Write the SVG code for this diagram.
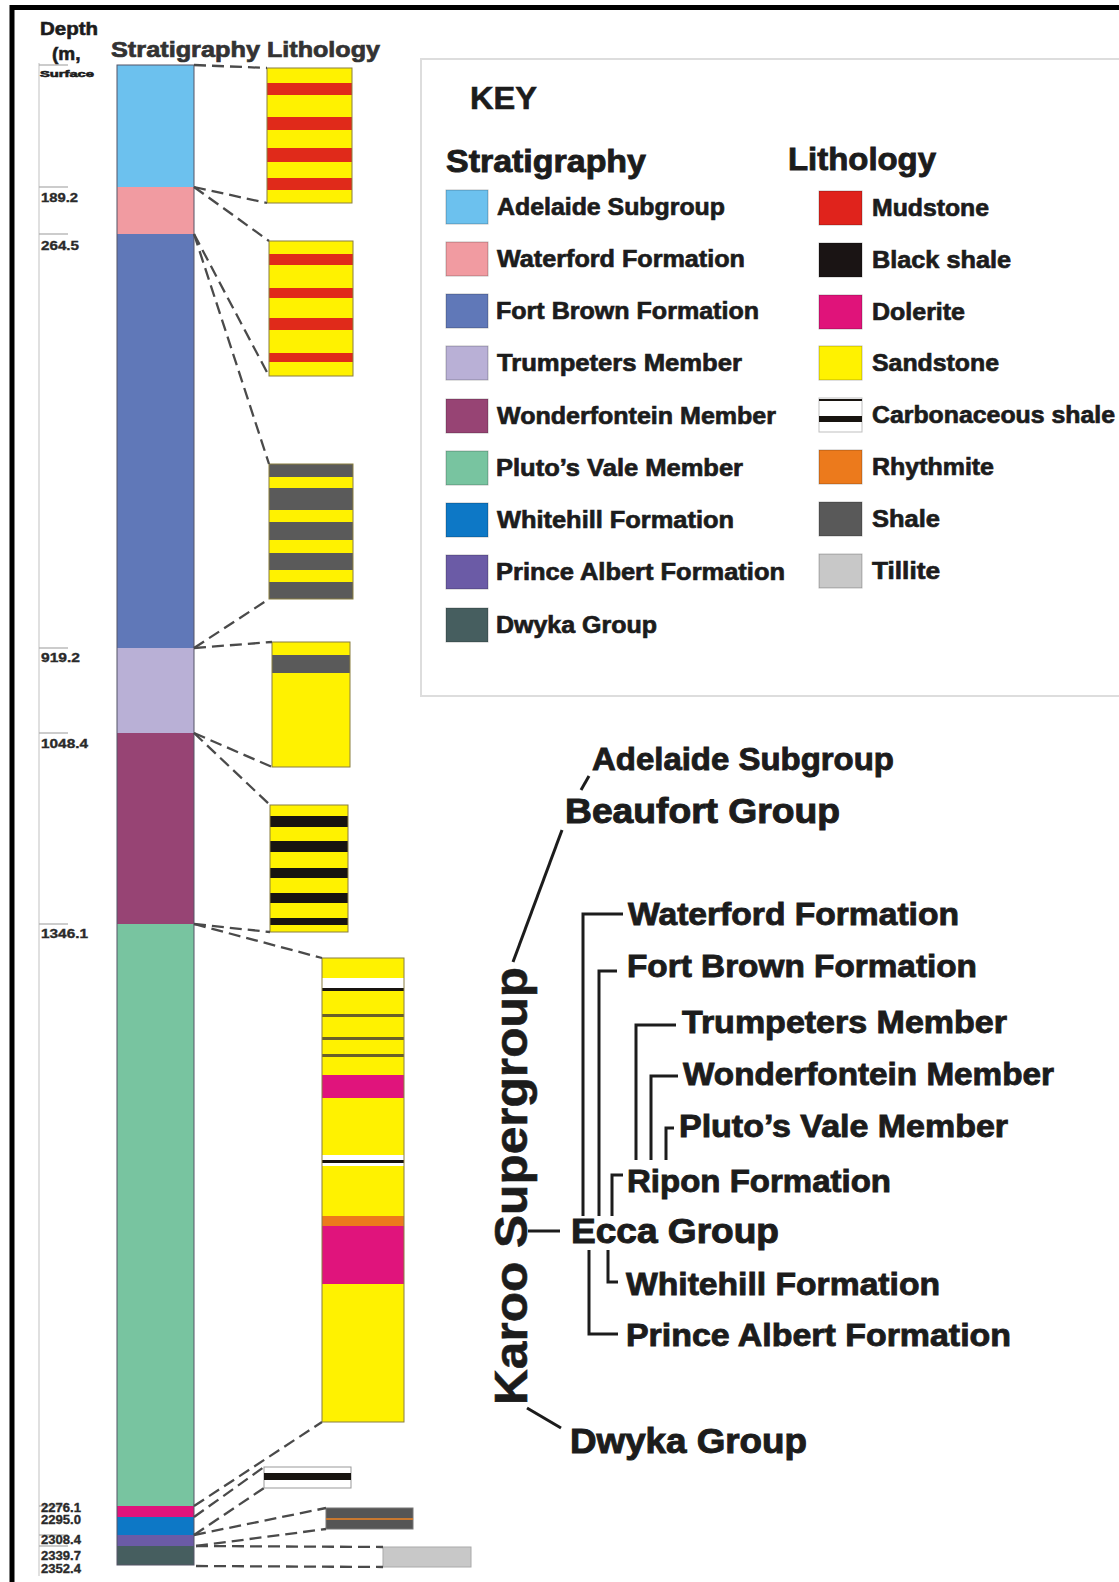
<svg xmlns="http://www.w3.org/2000/svg" width="1119" height="1582" viewBox="0 0 1119 1582">
<style>
text{font-family:"Liberation Sans",Arial,sans-serif;font-weight:bold;fill:#1c1c1c;stroke:#1c1c1c;stroke-width:0.6}
.dep{font-size:13px;fill:#2a2a2a;stroke:#2a2a2a;stroke-width:0.35}
.hdr{font-size:22px;fill:#333;stroke:#333;stroke-width:0.7}
.kt{font-size:32px;stroke-width:0.9}
.ki{font-size:24px;stroke-width:0.7}
.tr{font-size:31px;stroke-width:0.9}
.tb{font-size:35px;stroke-width:1}
.dash{stroke:#4a4a4a;stroke-width:2.3;stroke-dasharray:12 6;fill:none}
.tree{stroke:#1c1c1c;stroke-width:3;fill:none}
.tick{stroke:#aaa;stroke-width:1.2}
.lb{stroke:#8a7f40;stroke-width:1}
.sw{stroke:#000;stroke-opacity:0.25;stroke-width:1}
</style>
<rect width="1119" height="1582" fill="#fff"/>
<path d="M12,1582 V7.5 H1119" fill="none" stroke="#000" stroke-width="5"/>

<g id="depth-axis">
<line x1="39" y1="63" x2="39" y2="1576" stroke="#ccc" stroke-width="1.2"/>
<line class="tick" x1="39" y1="65" x2="68" y2="65"/>
<line class="tick" x1="39" y1="187" x2="68" y2="187"/>
<line class="tick" x1="39" y1="234" x2="68" y2="234"/>
<line class="tick" x1="39" y1="648" x2="68" y2="648"/>
<line class="tick" x1="39" y1="733" x2="68" y2="733"/>
<line class="tick" x1="39" y1="924" x2="68" y2="924"/>
<line class="tick" x1="39" y1="1506" x2="68" y2="1506"/>
<line class="tick" x1="39" y1="1535" x2="68" y2="1535"/>
<line class="tick" x1="39" y1="1546" x2="68" y2="1546"/>
<text x="40" y="35" font-size="19" textLength="58" lengthAdjust="spacingAndGlyphs" fill="#000" stroke="#000">Depth</text>
<text x="52" y="60" font-size="19" fill="#000" stroke="#000">(m,</text>
<text x="40" y="77" font-size="9.5" textLength="54" lengthAdjust="spacingAndGlyphs" fill="#444" stroke="#444" stroke-width="0.3">Surface</text>
<text class="dep" x="41" y="202" textLength="37" lengthAdjust="spacingAndGlyphs">189.2</text>
<text class="dep" x="41" y="250" textLength="38" lengthAdjust="spacingAndGlyphs">264.5</text>
<text class="dep" x="41" y="662" textLength="39" lengthAdjust="spacingAndGlyphs">919.2</text>
<text class="dep" x="41" y="748" textLength="47" lengthAdjust="spacingAndGlyphs">1048.4</text>
<text class="dep" x="41" y="938" textLength="47" lengthAdjust="spacingAndGlyphs">1346.1</text>
<text class="dep" x="41" y="1512" font-size="9" textLength="40" lengthAdjust="spacingAndGlyphs">2276.1</text>
<text class="dep" x="41" y="1524" font-size="9" textLength="40" lengthAdjust="spacingAndGlyphs">2295.0</text>
<text class="dep" x="41" y="1544" font-size="9" textLength="40" lengthAdjust="spacingAndGlyphs">2308.4</text>
<text class="dep" x="41" y="1560" font-size="9" textLength="40" lengthAdjust="spacingAndGlyphs">2339.7</text>
<text class="dep" x="41" y="1573" font-size="9" textLength="40" lengthAdjust="spacingAndGlyphs">2352.4</text>
</g>

<g id="headers">
<text class="hdr" x="111" y="57" textLength="149" lengthAdjust="spacingAndGlyphs">Stratigraphy</text>
<text class="hdr" x="267" y="57" textLength="113" lengthAdjust="spacingAndGlyphs">Lithology</text>
</g>

<g id="strat-column">
<rect x="117" y="65" width="77" height="122" fill="#6cc1ee"/>
<rect x="117" y="187" width="77" height="47" fill="#f19ba1"/>
<rect x="117" y="234" width="77" height="414" fill="#6078b8"/>
<rect x="117" y="648" width="77" height="85" fill="#b9b0d6"/>
<rect x="117" y="733" width="77" height="191" fill="#974474"/>
<rect x="117" y="924" width="77" height="582" fill="#78c4a0"/>
<rect x="117" y="1506" width="77" height="11" fill="#e0147c"/>
<rect x="117" y="1517" width="77" height="18" fill="#0d78c6"/>
<rect x="117" y="1535" width="77" height="11" fill="#6b5ba6"/>
<rect x="117" y="1546" width="77" height="19" fill="#465e5f"/>
<rect x="117" y="65" width="77" height="1500" fill="none" stroke="#556" stroke-width="1"/>
</g>

<g id="lith-adelaide">
<rect x="267" y="68" width="85" height="135" fill="#fff200"/>
<rect x="267" y="83" width="85" height="12" fill="#e02a1a"/>
<rect x="267" y="117" width="85" height="13" fill="#e02a1a"/>
<rect x="267" y="148" width="85" height="14" fill="#e02a1a"/>
<rect x="267" y="178" width="85" height="12" fill="#e02a1a"/>
<rect class="lb" x="267" y="68" width="85" height="135" fill="none"/>
</g>
<g id="lith-waterford">
<rect x="269" y="241" width="84" height="135" fill="#fff200"/>
<rect x="269" y="254" width="84" height="11" fill="#e02a1a"/>
<rect x="269" y="288" width="84" height="10" fill="#e02a1a"/>
<rect x="269" y="318" width="84" height="12" fill="#e02a1a"/>
<rect x="269" y="353" width="84" height="9" fill="#e02a1a"/>
<rect class="lb" x="269" y="241" width="84" height="135" fill="none"/>
</g>
<g id="lith-fortbrown">
<rect x="269" y="464" width="84" height="135" fill="#5a5a5a"/>
<rect x="269" y="477" width="84" height="11" fill="#fff200"/>
<rect x="269" y="510" width="84" height="12" fill="#fff200"/>
<rect x="269" y="540" width="84" height="13" fill="#fff200"/>
<rect x="269" y="570" width="84" height="12" fill="#fff200"/>
<rect class="lb" x="269" y="464" width="84" height="135" fill="none"/>
</g>
<g id="lith-trumpeters">
<rect x="272" y="642" width="78" height="125" fill="#fff200"/>
<rect x="272" y="655" width="78" height="18" fill="#5a5a5a"/>
<rect class="lb" x="272" y="642" width="78" height="125" fill="none"/>
</g>
<g id="lith-wonderfontein">
<rect x="270" y="805" width="78" height="127" fill="#fff200"/>
<rect x="270" y="816" width="78" height="11" fill="#181410"/>
<rect x="270" y="841" width="78" height="11" fill="#181410"/>
<rect x="270" y="868" width="78" height="10" fill="#181410"/>
<rect x="270" y="893" width="78" height="10" fill="#181410"/>
<rect x="270" y="918" width="78" height="7" fill="#181410"/>
<rect class="lb" x="270" y="805" width="78" height="127" fill="none"/>
</g>
<g id="lith-plutosvale">
<rect x="322" y="958" width="82" height="464" fill="#fff200"/>
<rect x="322" y="978" width="82" height="10" fill="#fff"/>
<rect x="322" y="988" width="82" height="3" fill="#181410"/>
<rect x="322" y="1014" width="82" height="3" fill="#6a6028"/>
<rect x="322" y="1037" width="82" height="3" fill="#6a6028"/>
<rect x="322" y="1054" width="82" height="3" fill="#6a6028"/>
<rect x="322" y="1075" width="82" height="23" fill="#e0147c"/>
<rect x="322" y="1155" width="82" height="11" fill="#fff"/>
<rect x="322" y="1160" width="82" height="3" fill="#181410"/>
<rect x="322" y="1216" width="82" height="10" fill="#ec7a1c"/>
<rect x="322" y="1226" width="82" height="58" fill="#e0147c"/>
<rect class="lb" x="322" y="958" width="82" height="464" fill="none"/>
</g>
<g id="lith-whitehill">
<rect x="264" y="1467" width="87" height="21" fill="#fff" stroke="#999" stroke-width="1"/>
<rect x="264" y="1473" width="87" height="7" fill="#181410"/>
</g>
<g id="lith-princealbert">
<rect x="326" y="1508" width="87" height="21" fill="#555" stroke="#777" stroke-width="1"/>
<line x1="326" y1="1519" x2="413" y2="1519" stroke="#c87830" stroke-width="2"/>
</g>
<g id="lith-dwyka">
<rect x="383" y="1547" width="88" height="20" fill="#c8c8c8" stroke="#aaa" stroke-width="1"/>
</g>

<g id="connectors">
<line class="dash" x1="194" y1="65" x2="267" y2="68"/>
<line class="dash" x1="194" y1="187" x2="267" y2="203"/>
<line class="dash" x1="194" y1="187" x2="269" y2="241"/>
<line class="dash" x1="194" y1="234" x2="269" y2="376"/>
<line class="dash" x1="194" y1="234" x2="269" y2="464"/>
<line class="dash" x1="194" y1="648" x2="269" y2="599"/>
<line class="dash" x1="194" y1="648" x2="272" y2="642"/>
<line class="dash" x1="194" y1="733" x2="272" y2="767"/>
<line class="dash" x1="194" y1="733" x2="270" y2="805"/>
<line class="dash" x1="194" y1="924" x2="270" y2="932"/>
<line class="dash" x1="194" y1="924" x2="322" y2="958"/>
<line class="dash" x1="194" y1="1506" x2="322" y2="1422"/>
<line class="dash" x1="194" y1="1517" x2="264" y2="1467"/>
<line class="dash" x1="194" y1="1535" x2="264" y2="1488"/>
<line class="dash" x1="194" y1="1535" x2="326" y2="1508"/>
<line class="dash" x1="196" y1="1546" x2="326" y2="1529"/>
<line class="dash" x1="196" y1="1546" x2="383" y2="1547"/>
<line class="dash" x1="196" y1="1566" x2="383" y2="1567"/>
</g>

<g id="key">
<rect x="421" y="59" width="700" height="637" fill="#fff" stroke="#ddd" stroke-width="2"/>
<text x="470" y="109" font-size="31" stroke-width="1" textLength="67" lengthAdjust="spacingAndGlyphs">KEY</text>
<text class="kt" x="446" y="172" textLength="200" lengthAdjust="spacingAndGlyphs">Stratigraphy</text>
<text class="kt" x="788" y="170" textLength="148" lengthAdjust="spacingAndGlyphs">Lithology</text>
<g id="key-strat">
<rect class="sw" x="446" y="190" width="42" height="34" fill="#6cc1ee"/>
<rect class="sw" x="446" y="242" width="42" height="34" fill="#f19ba1"/>
<rect class="sw" x="446" y="294" width="42" height="34" fill="#6078b8"/>
<rect class="sw" x="446" y="346" width="42" height="34" fill="#b9b0d6"/>
<rect class="sw" x="446" y="399" width="42" height="34" fill="#974474"/>
<rect class="sw" x="446" y="451" width="42" height="34" fill="#78c4a0"/>
<rect class="sw" x="446" y="503" width="42" height="34" fill="#0d78c6"/>
<rect class="sw" x="446" y="555" width="42" height="34" fill="#6b5ba6"/>
<rect class="sw" x="446" y="608" width="42" height="34" fill="#465e5f"/>
<text class="ki" x="497" y="215" textLength="228" lengthAdjust="spacingAndGlyphs">Adelaide Subgroup</text>
<text class="ki" x="497" y="267" textLength="248" lengthAdjust="spacingAndGlyphs">Waterford Formation</text>
<text class="ki" x="496" y="319" textLength="263" lengthAdjust="spacingAndGlyphs">Fort Brown Formation</text>
<text class="ki" x="497" y="371" textLength="245" lengthAdjust="spacingAndGlyphs">Trumpeters Member</text>
<text class="ki" x="497" y="424" textLength="279" lengthAdjust="spacingAndGlyphs">Wonderfontein Member</text>
<text class="ki" x="496" y="476" textLength="247" lengthAdjust="spacingAndGlyphs">Pluto’s Vale Member</text>
<text class="ki" x="497" y="528" textLength="237" lengthAdjust="spacingAndGlyphs">Whitehill Formation</text>
<text class="ki" x="496" y="580" textLength="289" lengthAdjust="spacingAndGlyphs">Prince Albert Formation</text>
<text class="ki" x="496" y="633" textLength="161" lengthAdjust="spacingAndGlyphs">Dwyka Group</text>
</g>
<g id="key-lith">
<rect class="sw" x="819" y="191" width="43" height="34" fill="#e0231c"/>
<rect class="sw" x="819" y="243" width="43" height="34" fill="#1a1414"/>
<rect class="sw" x="819" y="295" width="43" height="34" fill="#e0137a"/>
<rect class="sw" x="819" y="346" width="43" height="34" fill="#fff200"/>
<rect class="sw" x="819" y="398" width="43" height="34" fill="#fff"/>
<rect x="819" y="399" width="43" height="2" fill="#181410"/>
<rect x="819" y="416" width="43" height="6" fill="#181410"/>
<rect class="sw" x="819" y="450" width="43" height="34" fill="#ec7a1c"/>
<rect class="sw" x="819" y="502" width="43" height="34" fill="#595959"/>
<rect class="sw" x="819" y="554" width="43" height="34" fill="#c8c8c8"/>
<text class="ki" x="872" y="216" textLength="117" lengthAdjust="spacingAndGlyphs">Mudstone</text>
<text class="ki" x="872" y="268" textLength="139" lengthAdjust="spacingAndGlyphs">Black shale</text>
<text class="ki" x="872" y="320" textLength="93" lengthAdjust="spacingAndGlyphs">Dolerite</text>
<text class="ki" x="872" y="371" textLength="127" lengthAdjust="spacingAndGlyphs">Sandstone</text>
<text class="ki" x="872" y="423" textLength="243" lengthAdjust="spacingAndGlyphs">Carbonaceous shale</text>
<text class="ki" x="872" y="475" textLength="122" lengthAdjust="spacingAndGlyphs">Rhythmite</text>
<text class="ki" x="872" y="527" textLength="68" lengthAdjust="spacingAndGlyphs">Shale</text>
<text class="ki" x="872" y="579" textLength="68" lengthAdjust="spacingAndGlyphs">Tillite</text>
</g>
</g>

<g id="tree-lines">
<line class="tree" x1="581" y1="790" x2="589" y2="776"/>
<line class="tree" x1="562" y1="830" x2="513" y2="962"/>
<line class="tree" x1="528" y1="1231" x2="560" y2="1231"/>
<line class="tree" x1="527" y1="1408" x2="561" y2="1428"/>
<path class="tree" d="M583,1216 V914 H623"/>
<path class="tree" d="M599,1216 V971 H617"/>
<path class="tree" d="M612,1216 V1175 H623"/>
<path class="tree" d="M636,1160 V1025 H676"/>
<path class="tree" d="M651,1160 V1076 H678"/>
<path class="tree" d="M666,1160 V1128 H674"/>
<path class="tree" d="M608,1250 V1282 H618"/>
<path class="tree" d="M589,1250 V1334 H618"/>
</g>

<g id="tree-labels">
<text class="tr" x="592" y="770" textLength="302" lengthAdjust="spacingAndGlyphs">Adelaide Subgroup</text>
<text class="tb" x="565" y="823" textLength="275" lengthAdjust="spacingAndGlyphs">Beaufort Group</text>
<text class="tr" x="628" y="925" textLength="331" lengthAdjust="spacingAndGlyphs">Waterford Formation</text>
<text class="tr" x="627" y="977" textLength="350" lengthAdjust="spacingAndGlyphs">Fort Brown Formation</text>
<text class="tr" x="682" y="1033" textLength="325" lengthAdjust="spacingAndGlyphs">Trumpeters Member</text>
<text class="tr" x="683" y="1085" textLength="371" lengthAdjust="spacingAndGlyphs">Wonderfontein Member</text>
<text class="tr" x="679" y="1137" textLength="329" lengthAdjust="spacingAndGlyphs">Pluto’s Vale Member</text>
<text class="tr" x="627" y="1192" textLength="264" lengthAdjust="spacingAndGlyphs">Ripon Formation</text>
<text class="tb" x="571" y="1243" textLength="208" lengthAdjust="spacingAndGlyphs">Ecca Group</text>
<text class="tr" x="626" y="1295" textLength="314" lengthAdjust="spacingAndGlyphs">Whitehill Formation</text>
<text class="tr" x="626" y="1346" textLength="385" lengthAdjust="spacingAndGlyphs">Prince Albert Formation</text>
<text class="tb" x="570" y="1453" textLength="237" lengthAdjust="spacingAndGlyphs">Dwyka Group</text>
<text transform="translate(527,1405) rotate(-90)" font-size="46" stroke-width="1.4" textLength="438" lengthAdjust="spacingAndGlyphs">Karoo Supergroup</text>
</g>
</svg>
